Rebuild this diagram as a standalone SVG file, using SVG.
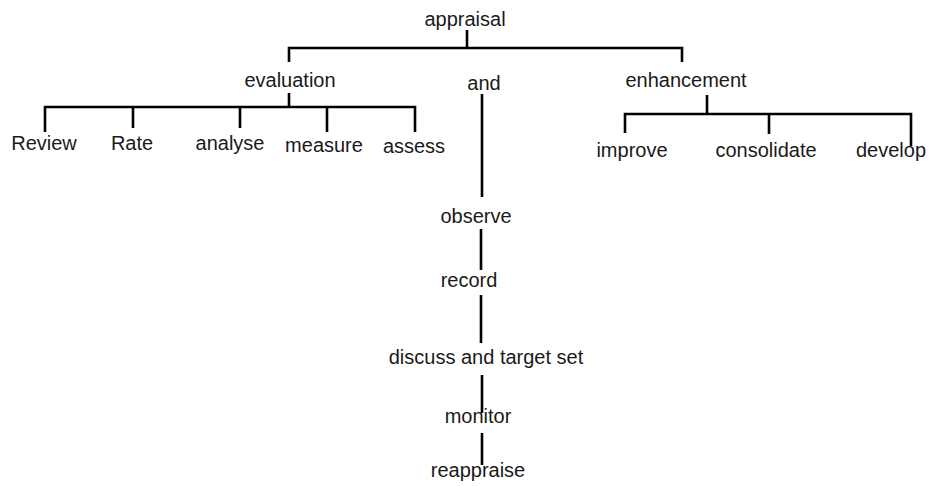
<svg xmlns="http://www.w3.org/2000/svg" width="929" height="486" viewBox="0 0 929 486">
<style>
text{font-family:"Liberation Sans",Arial,sans-serif;font-size:20px;fill:#1a1a1a;text-anchor:middle}
.c line,.c polyline{stroke:#000;stroke-width:2.6;fill:none}
</style>
<rect width="929" height="486" fill="#fff"/>
<g class="c" id="connectors">
<line x1="467" y1="30" x2="467" y2="48"/>
<polyline points="289,62 289,48 682,48 682,62"/>
<line x1="289" y1="93" x2="289" y2="107"/>
<polyline points="45,132 45,107 415,107 415,132"/>
<line x1="133" y1="107" x2="133" y2="128"/>
<line x1="240" y1="107" x2="240" y2="128"/>
<line x1="327" y1="107" x2="327" y2="132"/>
<line x1="707" y1="95" x2="707" y2="114"/>
<polyline points="625,133 625,114 911,114 911,146"/>
<line x1="769" y1="114" x2="769" y2="134"/>
<line x1="482" y1="94" x2="482" y2="197"/>
<line x1="481" y1="229" x2="481" y2="270"/>
<line x1="481" y1="295" x2="481" y2="343"/>
<line x1="482" y1="375" x2="482" y2="413"/>
<line x1="482" y1="433" x2="482" y2="465"/>
</g>
<g id="appraisal"><text x="465" y="26">appraisal</text></g>
<g id="evaluation"><text x="290" y="87">evaluation</text></g>
<g id="and"><text x="484" y="90">and</text></g>
<g id="enhancement"><text x="686" y="87">enhancement</text></g>
<g id="review"><text x="44" y="150">Review</text></g>
<g id="rate"><text x="132" y="150">Rate</text></g>
<g id="analyse"><text x="230" y="150">analyse</text></g>
<g id="measure"><text x="324" y="152">measure</text></g>
<g id="assess"><text x="414" y="153">assess</text></g>
<g id="improve"><text x="632" y="157">improve</text></g>
<g id="consolidate"><text x="766" y="157">consolidate</text></g>
<g id="develop"><text x="891" y="157">develop</text></g>
<g id="observe"><text x="476" y="223">observe</text></g>
<g id="record"><text x="469" y="287">record</text></g>
<g id="discuss"><text x="486" y="364">discuss and target set</text></g>
<g id="monitor"><text x="478" y="423">monitor</text></g>
<g id="reappraise"><text x="478" y="477">reappraise</text></g>
</svg>
